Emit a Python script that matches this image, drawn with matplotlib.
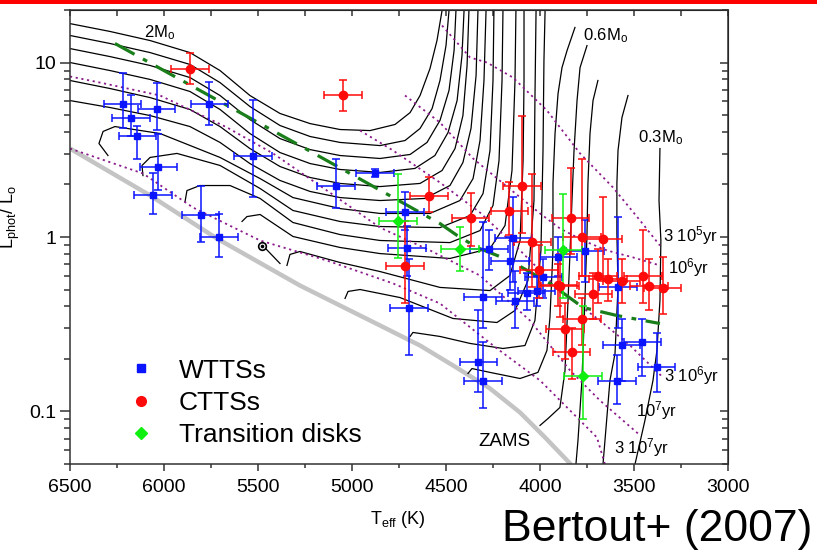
import numpy as np
import matplotlib.pyplot as plt
from matplotlib.lines import Line2D
from matplotlib.patches import Rectangle
from matplotlib.ticker import NullFormatter

plt.rcParams['font.family'] = ['Liberation Sans', 'DejaVu Sans']
plt.rcParams['mathtext.fontset'] = 'custom'
plt.rcParams['mathtext.rm'] = 'Liberation Sans'
plt.rcParams['mathtext.it'] = 'Liberation Sans:italic'

# -----------------------------
# Data
# -----------------------------
T_ERR = 100  # K, half width of the temperature error bars

wtts_T = [6220, 6176, 6039, 6142, 5759, 6030, 6057, 5528, 5085, 4878, 5805, 5709,
          4718, 4709, 4697, 4270, 4302, 4328, 4302, 4142, 4160, 4133, 4071, 4018,
          3982, 3761, 3902, 3584, 3566, 3455, 3380, 3592]
wtts_L = [5.8, 4.82, 5.43, 3.77, 5.75, 2.51, 1.75, 2.9, 1.97, 2.33, 1.34, 1.0,
          1.4, 0.86, 0.39, 0.855, 0.452, 0.192, 0.15, 0.99, 0.733, 0.43, 0.48, 0.49,
          0.59, 0.83, 0.77, 0.52, 0.241, 0.25, 0.18, 0.15]
wtts_Llo = [4.2, 3.8, 4.1, 2.8, 4.4, 1.85, 1.36, 1.7, 1.47, 2.2, 0.93, 0.77,
            1.1, 0.6, 0.21, 0.65, 0.30, 0.13, 0.105, 0.55, 0.5, 0.30, 0.38, 0.4,
            0.45, 0.55, 0.6, 0.3, 0.15, 0.16, 0.129, 0.11]
wtts_Lhi = [8.7, 6.5, 7.6, 4.3, 7.7, 3.9, 2.34, 6.1, 2.8, 2.45, 1.97, 1.36,
            1.8, 1.16, 0.75, 1.1, 1.22, 0.38, 0.25, 1.69, 1.0, 0.64, 0.62, 0.6,
            0.75, 1.25, 1.0, 1.3, 0.34, 0.34, 0.28, 0.21]

ctts_T = [5862, 5048, 4589, 4369, 4097, 4163, 4718, 4040, 4004, 3902, 3837, 3778,
          3663, 3690, 3637, 3566, 3451, 3419, 3348, 3716, 3778, 3867, 3832, 3894]
ctts_L = [9.2, 6.55, 1.71, 1.29, 1.97, 1.405, 0.678, 0.93, 0.643, 0.53, 1.29, 1.0,
          0.976, 0.60, 0.576, 0.563, 0.60, 0.527, 0.51, 0.47, 0.34, 0.298, 0.219, 0.527]
ctts_Llo = [7.5, 5.3, 1.39, 0.89, 1.05, 1.02, 0.42, 0.52, 0.45, 0.4, 0.8, 0.6,
            0.56, 0.42, 0.43, 0.42, 0.42, 0.38, 0.36, 0.34, 0.24, 0.2, 0.154, 0.35]
ctts_Lhi = [11.4, 7.9, 2.2, 1.78, 4.97, 2.06, 1.24, 2.3, 0.9, 0.7, 2.47, 2.8,
            1.69, 0.85, 0.75, 0.75, 1.09, 0.75, 0.77, 0.62, 0.45, 0.42, 0.30, 0.8]

td_T = [4755, 4426, 3876, 3770]
td_L = [1.24, 0.848, 0.845, 0.159]
td_Llo = [0.76, 0.64, 0.45, 0.091]
td_Lhi = [2.3, 1.14, 1.77, 0.40]

# evolutionary tracks (Teff, log L)
track_T = [
    [6500, 6287, 6074, 5862, 5702, 5543, 5383, 5223, 5064, 4904, 4771, 4691, 4638, 4585, 4548, 4521],
    [6500, 6287, 6074, 5862, 5702, 5543, 5383, 5223, 5064, 4851, 4718, 4638, 4574, 4532, 4500, 4484],
    [6500, 6287, 6074, 5862, 5702, 5543, 5383, 5223, 5064, 4851, 4691, 4601, 4532, 4484, 4457, 4447],
    [6500, 6287, 6074, 5862, 5702, 5543, 5383, 5223, 5064, 4851, 4665, 4559, 4489, 4441, 4415, 4404],
    [6500, 6287, 6074, 5862, 5702, 5543, 5383, 5223, 5064, 4851, 4638, 4521, 4452, 4410, 4388, 4378],
    [6500, 6287, 6074, 5862, 5702, 5543, 5383, 5223, 5064, 4851, 4612, 4479, 4410, 4367, 4340, 4330],
    [6298, 6346, 6324, 6261, 6021, 5702, 5489, 5314, 5064, 4851, 4585, 4426, 4356, 4319, 4298, 4287],
    [6112, 6117, 6074, 5931, 5702, 5489, 5314, 5064, 4851, 4532, 4372, 4303, 4266, 4250, 4245],
    [5888, 5878, 5809, 5649, 5489, 5314, 5064, 4851, 4479, 4319, 4250, 4218, 4202, 4197],
    [5585, 5559, 5489, 5314, 5064, 4851, 4479, 4266, 4186, 4149, 4133, 4128],
    [5346, 5330, 5277, 5064, 4851, 4532, 4266, 4160, 4106, 4090, 4085, 4085],
    [5037, 5021, 4957, 4745, 4463, 4229, 4133, 4064, 4032, 4027, 4021],
    [4691, 4676, 4532, 4372, 4197, 4080, 4027, 3995, 3984, 3979, 3973],
    [4383, 4362, 4266, 4106, 4011, 3963, 3947, 3931, 3931, 3920, 3904, 3883, 3856, 3814],
    [4000, 3957, 3894, 3867, 3851, 3840, 3830, 3819, 3803, 3787, 3750],
    [3692, 3718, 3734, 3745, 3750, 3761, 3777, 3798, 3809],
    [3532, 3564, 3585, 3591, 3591, 3585, 3601, 3628, 3665],
    [3362, 3367, 3357, 3362, 3378, 3399, 3442, 3495],
]
track_logL = [
    [1.223, 1.178, 1.126, 1.057, 0.954, 0.811, 0.708, 0.650, 0.616, 0.610, 0.645, 0.713, 0.811, 0.966, 1.126, 1.298],
    [1.155, 1.109, 1.057, 0.989, 0.885, 0.748, 0.639, 0.576, 0.542, 0.524, 0.553, 0.622, 0.736, 0.897, 1.097, 1.298],
    [1.080, 1.034, 0.983, 0.914, 0.811, 0.673, 0.564, 0.501, 0.467, 0.450, 0.473, 0.542, 0.668, 0.840, 1.069, 1.298],
    [1.000, 0.954, 0.903, 0.834, 0.731, 0.593, 0.484, 0.421, 0.387, 0.370, 0.393, 0.467, 0.599, 0.782, 1.040, 1.298],
    [0.897, 0.851, 0.799, 0.731, 0.633, 0.507, 0.404, 0.341, 0.307, 0.289, 0.307, 0.381, 0.507, 0.696, 0.983, 1.298],
    [0.782, 0.742, 0.696, 0.633, 0.542, 0.421, 0.324, 0.261, 0.226, 0.209, 0.221, 0.295, 0.427, 0.622, 0.926, 1.298],
    [0.467, 0.536, 0.605, 0.633, 0.593, 0.456, 0.335, 0.226, 0.163, 0.135, 0.135, 0.209, 0.335, 0.553, 0.897, 1.298],
    [0.352, 0.410, 0.456, 0.479, 0.410, 0.278, 0.152, 0.089, 0.060, 0.054, 0.123, 0.249, 0.496, 0.897, 1.298],
    [0.203, 0.266, 0.295, 0.295, 0.221, 0.083, 0.014, -0.020, -0.032, 0.037, 0.181, 0.438, 0.897, 1.298],
    [0.089, 0.117, 0.129, 0.003, -0.060, -0.095, -0.123, -0.066, 0.066, 0.381, 0.897, 1.298],
    [-0.163, -0.100, -0.083, -0.146, -0.198, -0.289, -0.307, -0.221, -0.020, 0.438, 0.897, 1.298],
    [-0.352, -0.312, -0.301, -0.347, -0.467, -0.490, -0.421, -0.249, 0.209, 0.782, 1.298],
    [-0.570, -0.547, -0.570, -0.610, -0.639, -0.622, -0.479, -0.077, 0.496, 1.011, 1.298],
    [-0.782, -0.754, -0.776, -0.811, -0.776, -0.650, -0.461, -0.077, 0.307, 0.593, 0.822, 0.971, 1.069, 1.201],
    [-1.080, -1.040, -0.977, -0.765, -0.364, -0.077, 0.209, 0.496, 0.782, 0.971, 1.097],
    [0.897, 0.782, 0.593, 0.307, 0.020, -0.364, -0.822, -1.166, -1.304],
    [0.811, 0.685, 0.496, 0.307, 0.020, -0.289, -0.668, -0.822, -1.304],
    [0.507, 0.209, -0.020, -0.364, -0.650, -0.822, -1.052, -1.304],
]

# isochrones: 3e5, 1e6, 3e6, 1e7, 3e7 yr
iso_T = [
    [4521, 4372, 4282, 4144, 3963, 3787, 3612, 3468, 3362],
    [4718, 4532, 4356, 4176, 4000, 3894, 3771, 3644, 3505, 3362],
    [4957, 4782, 4532, 4319, 4106, 3894, 3681, 3521, 3346],
    [6500, 6340, 6021, 5665, 5420, 5133, 4851, 4585, 4319, 4053, 3840, 3681, 3479],
    [6500, 6112, 5846, 5489, 5133, 4782, 4532, 4229, 4000, 3856, 3697, 3654],
]
iso_logL = [
    [1.212, 1.029, 1.000, 0.914, 0.725, 0.479, 0.284, 0.095, -0.049],
    [0.811, 0.656, 0.450, 0.289, 0.135, 0.049, -0.020, -0.077, -0.117, -0.163],
    [0.610, 0.496, 0.312, 0.140, -0.077, -0.307, -0.479, -0.622, -0.805],
    [0.920, 0.885, 0.811, 0.628, 0.479, 0.266, 0.054, -0.077, -0.221, -0.479, -0.765, -0.937, -1.126],
    [0.507, 0.364, 0.169, -0.020, -0.135, -0.266, -0.381, -0.639, -0.822, -0.977, -1.149, -1.304],
]

zams_T = [6500, 6074, 5718, 5277, 4851, 4638, 4463, 4266, 4106, 3973, 3835]
zams_logL = [0.507, 0.238, -0.009, -0.278, -0.507, -0.622, -0.736, -0.868, -1.006, -1.149, -1.304]

birth_T = [6261, 5809, 5277, 4532, 4441, 4335, 4160, 3947, 3771, 3591, 3362]
birth_logL = [1.109, 0.840, 0.524, 0.077, 0.009, -0.060, -0.135, -0.266, -0.404, -0.450, -0.496]

sun_T, sun_L = 5479, 0.883
sun_tick_T = [5460, 5383]
sun_tick_L = [0.86, 0.705]

# -----------------------------
# Figure
# -----------------------------
fig = plt.figure(figsize=(8.17, 5.53), dpi=100)
ax = fig.add_axes([70 / 817, 1 - 464 / 553, 658 / 817, 454 / 553])

for tt, ll in zip(track_T, track_logL):
    ax.plot(tt, 10 ** np.array(ll), color='black', lw=0.9, zorder=2)

for tt, ll in zip(iso_T, iso_logL):
    ax.plot(tt, 10 ** np.array(ll), color='#8b1a8b', lw=1.3, ls=(0, (1.2, 2.0)), zorder=2)

ax.plot(zams_T, 10 ** np.array(zams_logL), color='#c4c4c4', lw=3.2,
        solid_capstyle='butt', zorder=1)
ax.plot(birth_T, 10 ** np.array(birth_logL), color='#1a7f1a', lw=2.3,
        ls=(0, (7, 3, 1.5, 3)), zorder=3)

# sun symbol
ax.plot(sun_tick_T, sun_tick_L, color='black', lw=0.9, zorder=2)
ax.plot([sun_T], [sun_L], marker='o', ms=5.5, mfc='white', mec='black', mew=1.2, zorder=4)
ax.plot([sun_T], [sun_L], marker='o', ms=1.6, color='black', zorder=5)


def draw(T, L, lo, hi, color, marker, ms):
    L = np.array(L)
    yerr = [L - np.array(lo), np.array(hi) - L]
    ax.errorbar(T, L, xerr=T_ERR, yerr=yerr, fmt=marker, color=color, ms=ms,
                elinewidth=1.1, capsize=2.6, capthick=1.1, zorder=5)


draw(wtts_T, wtts_L, wtts_Llo, wtts_Lhi, '#0a14ff', 's', 5)
draw(ctts_T, ctts_L, ctts_Llo, ctts_Lhi, '#ff0a0a', 'o', 6)
draw(td_T, td_L, td_Llo, td_Lhi, '#10f010', 'D', 5)

# labels on the tracks / isochrones
ax.text(6105, 14.9, r'2M$_{\rm o}$', fontsize=12, va='center', ha='left')
ax.text(3771, 14.3, r'0.6M$_{\rm o}$', fontsize=12, va='center', ha='left')
ax.text(3479, 3.72, r'0.3M$_{\rm o}$', fontsize=12, va='center', ha='left')
ax.text(3346, 1.02, r'3 10$^5$yr', fontsize=12, va='center', ha='left')
ax.text(3319, 0.668, r'10$^6$yr', fontsize=12, va='center', ha='left')
ax.text(3340, 0.161, r'3 10$^6$yr', fontsize=12, va='center', ha='left')
ax.text(3489, 0.101, r'10$^7$yr', fontsize=12, va='center', ha='left')
ax.text(3606, 0.0622, r'3 10$^7$yr', fontsize=12, va='center', ha='left')
ax.text(4330, 0.0673, 'ZAMS', fontsize=13.5, va='center', ha='left')

# axes
ax.set_xlim(6500, 3000)
ax.set_yscale('log')
ax.set_ylim(0.05, 20)
ax.set_xticks(np.arange(3000, 6501, 500))
ax.set_xticks(np.arange(3250, 6500, 500), minor=True)
ax.set_yticks([0.1, 1, 10])
ax.set_yticklabels(['0.1', '1', '10'])
ax.yaxis.set_minor_formatter(NullFormatter())
ax.tick_params(which='both', direction='out', top=False, right=False,
               labelsize=14, color='#333333', width=1.1)
ax.tick_params(axis='y', which='major', length=7, pad=3)
ax.tick_params(axis='y', which='minor', length=4.5)
ax.tick_params(axis='x', which='major', length=5, pad=6)
ax.tick_params(axis='x', which='minor', length=3)
for sp in ax.spines.values():
    sp.set_linewidth(1.1)
    sp.set_color('#333333')

top = ax.secondary_xaxis('top')
top.set_xticks(np.arange(3000, 6501, 250))
top.tick_params(direction='in', length=4, width=1.1, color='#333333', labeltop=False)
right = ax.secondary_yaxis('right')
right.tick_params(which='major', direction='in', length=6, width=1.1, color='#333333', labelright=False)
right.tick_params(which='minor', direction='in', length=4, width=1.1, color='#333333', labelright=False)

ax.set_ylabel(r'L$_{\rm phot}$/ L$_{\rm o}$', fontsize=13)
ax.yaxis.set_label_coords(-0.073, 0.544)
fig.text(398 / 817, 1 - 519 / 553, r'T$_{\rm eff}$ (K)', fontsize=13, ha='center', va='center')

handles = [Line2D([], [], ls='none', marker='s', color='#0a14ff', ms=6),
           Line2D([], [], ls='none', marker='o', color='#ff0a0a', ms=7),
           Line2D([], [], ls='none', marker='D', color='#10f010', ms=6)]
ax.legend(handles, ['WTTSs', 'CTTSs', 'Transition disks'], loc='upper left',
          bbox_to_anchor=(0.0554, 0.2726), frameon=False, fontsize=19,
          handletextpad=0.84, labelspacing=0.31, handlelength=1.2, borderpad=0.2)

fig.text(812 / 817, 1 - 530 / 553, 'Bertout+ (2007)', fontsize=32, ha='right', va='center')
fig.add_artist(Rectangle((0, 1 - 4 / 553), 1, 4 / 553, transform=fig.transFigure,
                         color='#ff0000', lw=0))

fig.savefig('out.png', dpi=100)
